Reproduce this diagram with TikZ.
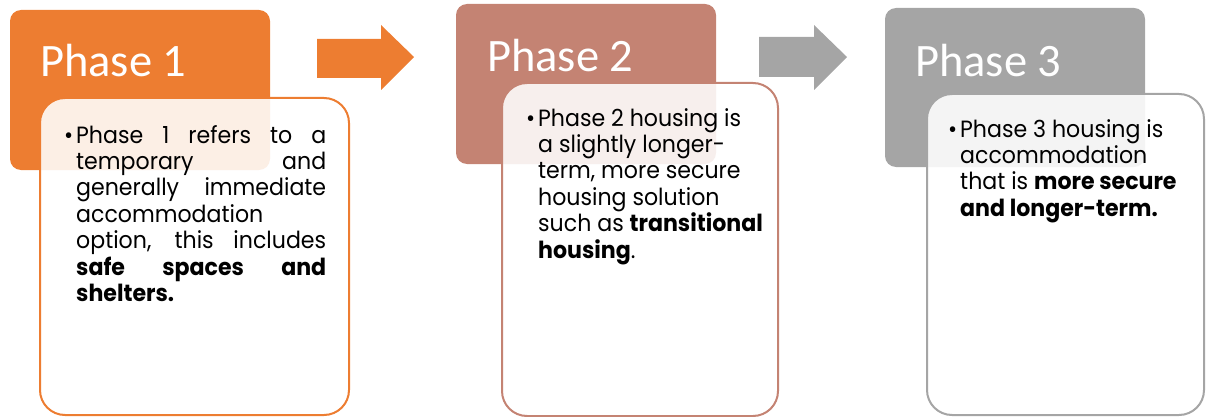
\documentclass[tikz,border=0pt]{standalone}
\usepackage{fontspec}
\newfontfamily\headfont{Carlito}
\newfontfamily\bodyfont[FakeStretch=0.94]{Poppins}
\definecolor{phaseone}{HTML}{ED7D31}
\definecolor{phasetwo}{HTML}{C48373}
\definecolor{phasethree}{HTML}{A5A5A5}
\newcommand{\jline}[1]{\makebox[\linewidth][s]{#1}\\}
\newcommand{\bulletmark}{\leavevmode\llap{•\hspace{3pt}}}
\begin{document}
\begin{tikzpicture}[x=1pt,y=-1pt,
  bodybox/.style={rounded corners=25pt, line width=2pt, fill=white, fill opacity=0.88},
  title/.style={anchor=base west, inner sep=0pt, text=white, font=\headfont\fontsize{46.5}{50}\selectfont},
  bodytext/.style={anchor=base west, inner sep=0pt, font=\bodyfont\fontsize{23.5}{26.4}\selectfont}]
\useasboundingbox (0,0) rectangle (1206,417);

% header panels
\fill[phaseone, rounded corners=11pt] (10,10) rectangle (270,170);
\fill[phasetwo, rounded corners=11pt] (456,4) rectangle (716,164);
\fill[phasethree, rounded corners=11pt] (885,8) rectangle (1145,167);

\node[title] (t1) at (40,77) {Phase 1};
\node[title] (t2) at (487,72) {Phase 2};
\node[title] (t3) at (915,77) {Phase 3};

% arrows between phases
\fill[phaseone] (317,39) -- (381,39) -- (381,25) -- (414,57) -- (381,90) -- (381,78) -- (317,78) -- cycle;
\fill[phasethree] (759,37) -- (814,37) -- (814,25) -- (847,57) -- (814,90) -- (814,77) -- (759,77) -- cycle;

% text panels
\draw[bodybox, draw=phaseone] (40,98) rectangle (349,415);
\draw[bodybox, draw=phasetwo] (502,83) rectangle (778,416);
\draw[bodybox, draw=phasethree] (927,94) rectangle (1204,415);

\node[bodytext] (b1) at (76,143) {\parbox[t]{250pt}{%
\jline{\llap{•\hspace{3pt}}Phase 1 refers to a}%
\jline{temporary and}%
\jline{generally immediate}%
accommodation\\
\jline{option, this includes}%
\jline{\bfseries safe spaces and}%
{\bfseries shelters.}}};

\node[bodytext] (b2) at (538,126) {\parbox[t]{240pt}{\raggedright
\bulletmark Phase 2 housing is\\
a slightly longer-\\
term, more secure\\
housing solution\\
such as {\bfseries transitional}\\
{\bfseries housing}.}};

\node[bodytext] (b3) at (960,137) {\parbox[t]{240pt}{\raggedright
\bulletmark Phase 3 housing is\\
accommodation\\
that is {\bfseries more secure}\\
{\bfseries and longer-term.}}};
\end{tikzpicture}
\end{document}
